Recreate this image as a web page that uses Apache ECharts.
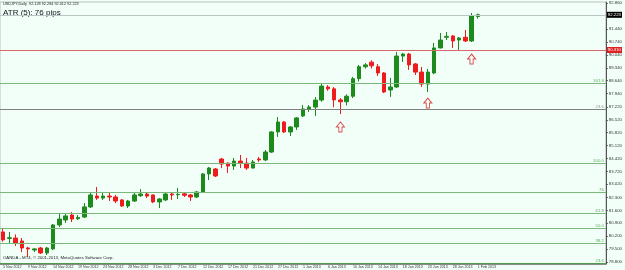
<!DOCTYPE html>
<html><head><meta charset="utf-8">
<script src="https://cdn.jsdelivr.net/npm/echarts@6/dist/echarts.min.js"></script>
<style>html,body{margin:0;padding:0;background:#f2fff9}#c{width:625px;height:270px}</style>
</head><body><div id="c"></div>
<script>
const xTickLabels = ['5 Nov 2012','9 Nov 2012','14 Nov 2012','19 Nov 2012','23 Nov 2012','28 Nov 2012','3 Dec 2012','7 Dec 2012','12 Dec 2012','17 Dec 2012','21 Dec 2012','27 Dec 2012','1 Jan 2013','6 Jan 2013','10 Jan 2013','14 Jan 2013','18 Jan 2013','23 Jan 2013','28 Jan 2013','1 Feb 2013'];
const opens  = [80.43,80.08,80.10,79.94,79.56,79.45,79.56,79.29,79.51,80.81,81.08,81.35,81.15,81.24,81.79,82.38,82.27,82.38,82.33,82.17,81.84,82.11,82.40,82.49,82.44,82.06,82.17,82.49,82.45,82.50,82.44,82.33,82.60,83.58,83.85,84.39,84.17,84.01,84.28,84.17,83.90,84.39,84.34,84.77,85.86,86.40,85.86,86.13,86.73,87.11,87.21,87.59,88.30,88.20,87.60,87.50,87.80,88.75,89.40,89.65,89.40,89.06,88.14,88.30,89.98,90.09,89.55,89.11,88.46,89.06,90.42,91.00,91.07,90.85,91.00,90.80,92.128];
const closes = [80.00,80.12,79.83,79.56,79.51,79.51,79.29,79.56,80.81,81.13,81.30,81.13,81.22,81.79,82.44,82.27,82.38,82.33,82.11,81.84,82.11,82.44,82.49,82.38,82.06,82.22,82.49,82.44,82.47,82.42,82.33,82.60,83.58,83.90,83.47,84.12,84.01,84.28,84.17,83.90,84.23,84.34,84.77,85.86,86.40,85.86,86.13,86.62,87.11,87.21,87.59,88.35,88.20,87.60,87.50,87.80,88.75,89.40,89.50,89.45,89.06,88.03,88.30,89.98,90.09,89.50,89.11,88.46,89.11,90.42,90.85,91.05,90.80,90.96,90.80,92.16,92.223];
const lows   = [79.90,79.83,79.67,79.34,79.07,79.34,79.23,79.18,79.45,80.70,80.92,80.97,81.08,81.19,81.73,82.17,82.17,82.11,82.00,81.79,81.73,82.06,82.33,82.27,82.00,81.73,82.11,82.17,82.22,82.33,82.11,82.27,82.55,83.25,83.41,83.90,83.63,83.80,83.90,83.80,83.88,84.23,84.28,84.72,85.59,85.80,85.64,85.97,86.67,86.94,86.73,87.50,88.10,87.20,86.83,87.30,87.70,88.60,89.30,89.30,88.90,87.97,87.76,88.25,89.66,89.23,88.95,88.30,88.03,89.00,90.40,90.85,90.42,90.31,90.74,90.74,92.012];
const highs  = [80.60,80.43,80.30,80.10,79.62,79.56,79.62,79.62,80.86,81.46,81.46,81.51,81.35,82.00,82.60,82.87,82.55,82.55,82.44,82.22,82.17,82.55,82.76,82.60,82.46,82.27,82.55,82.60,82.82,82.60,82.49,82.66,83.63,83.96,83.90,84.45,84.20,84.45,84.61,84.45,84.34,84.50,84.88,85.90,86.67,86.45,86.18,86.67,87.32,87.32,87.76,88.50,88.40,88.30,87.70,87.90,88.85,89.50,89.60,89.75,89.55,89.11,88.79,90.20,90.15,90.15,89.60,89.39,89.28,90.69,91.23,91.29,91.12,91.02,91.40,92.32,92.284];
const yTickLabels = [78.800,79.500,80.200,80.900,81.600,82.300,83.020,83.720,84.420,85.120,85.820,86.520,87.220,87.940,88.640,89.340,90.040,90.740,91.440,92.860];
const fibValues = [88.52,87.11,84.17,82.60,81.46,80.65,79.83,78.75];
const fibLabels = ['161.8','23.6','100.0','76','61.8','50.0','38.2','23.6'];
const arrowBars = [54,68,75];
const arrowPrices = [86.13,87.43,89.82];
const bidPrice = 92.223;
const redLevel = 90.31;
const totalSlots = 97;

const cats = [];
for (let i = 0; i < totalSlots; i++) cats.push(String(i));
const candles = opens.map((o, i) => [o, closes[i], lows[i], highs[i]]);
const arrows = arrowBars.map((b, i) => [String(b), arrowPrices[i]]);

const fibLines = fibValues.map((v, i) => ({
  yAxis: v,
  lineStyle: { color: fibLabels[i] === '23.6' && i === 1 ? '#808080' : (i === fibValues.length - 1 ? '#4f9a4f' : '#79b879'), width: 1, type: 'solid' },
  label: { show: true, position: 'insideEndTop', formatter: fibLabels[i], color: i === 1 ? '#8a9a8a' : '#5aa85a', fontSize: 4.3, distance: [2, 0], fontFamily: 'Liberation Sans' }
}));

const chart = echarts.init(document.getElementById('c'), null, { renderer: 'canvas' });
chart.setOption({
  backgroundColor: '#f2fff9',
  animation: false,
  grid: { left: 0, right: 16, top: 2, bottom: 6, show: true, borderColor: '#b8c0c0', borderWidth: 1, backgroundColor: 'transparent' },
  xAxis: {
    type: 'category', data: cats, boundaryGap: true,
    axisLine: { show: true, lineStyle: { color: '#8a8a8a', width: 1 } },
    axisTick: { show: false },
    splitLine: { show: false },
    axisLabel: {
      interval: 0, margin: 1, align: 'left', fontSize: 3.6, color: '#333', fontFamily: 'Liberation Sans',
      formatter: (v, idx) => (idx % 4 === 0 && idx / 4 < xTickLabels.length) ? xTickLabels[idx / 4] : ''
    }
  },
  yAxis: {
    type: 'value', position: 'right', min: 78.691, max: 92.915, scale: true,
    axisLine: { show: true, lineStyle: { color: '#555', width: 1 } },
    axisTick: { show: true, length: 2, lineStyle: { color: '#555' }, customValues: yTickLabels },
    splitLine: { show: false },
    axisLabel: { customValues: yTickLabels, fontSize: 4.3, color: '#333', margin: 3, fontFamily: 'Liberation Sans', formatter: v => v.toFixed(3) }
  },
  graphic: [
    { type: 'text', left: 3, top: 2, style: { text: 'USDJPY,Daily  92.128 92.284 92.012 92.223', fontSize: 3.8, fill: '#222', fontFamily: 'Liberation Sans' } },
    { type: 'text', left: 3, top: 9, style: { text: 'ATR (5): 76 pips', fontSize: 8, fill: '#111', fontFamily: 'Liberation Sans' } },
    { type: 'text', left: 3, top: 256, style: { text: 'OANDA - MT4, © 2001-2013, MetaQuotes Software Corp.', fontSize: 4.3, fill: '#222', fontFamily: 'Liberation Sans' } }
  ],
  series: [
    {
      type: 'candlestick', data: candles, barWidth: 4,
      itemStyle: { color: '#1c8a1c', color0: '#ee1c1c', borderColor: '#1c8a1c', borderColor0: '#ee1c1c', borderColorDoji: '#1c8a1c', borderWidth: 1 },
      markLine: {
        symbol: 'none', silent: true, animation: false,
        data: fibLines.concat([
          { yAxis: bidPrice, lineStyle: { color: '#b9c4c4', width: 1, type: 'solid' },
            label: { show: true, position: 'end', formatter: bidPrice.toFixed(3), color: '#fff', backgroundColor: '#000', fontSize: 4.3, padding: [1, 1], distance: 1, fontFamily: 'Liberation Sans' } },
          { yAxis: redLevel, lineStyle: { color: '#d86a6a', width: 1, type: 'solid' },
            label: { show: true, position: 'end', formatter: redLevel.toFixed(3), color: '#fff', backgroundColor: '#e02020', fontSize: 4.3, padding: [1, 1], distance: 1, fontFamily: 'Liberation Sans' } }
        ])
      }
    },
    {
      type: 'scatter', data: arrows, symbol: 'path://M5,0 L10,5 L7,5 L7,10 L3,10 L3,5 L0,5 Z', symbolSize: [8, 10],
      itemStyle: { color: 'rgba(255,255,255,0)', borderColor: '#d42020', borderWidth: 1 }, z: 5
    }
  ]
});
</script></body></html>
